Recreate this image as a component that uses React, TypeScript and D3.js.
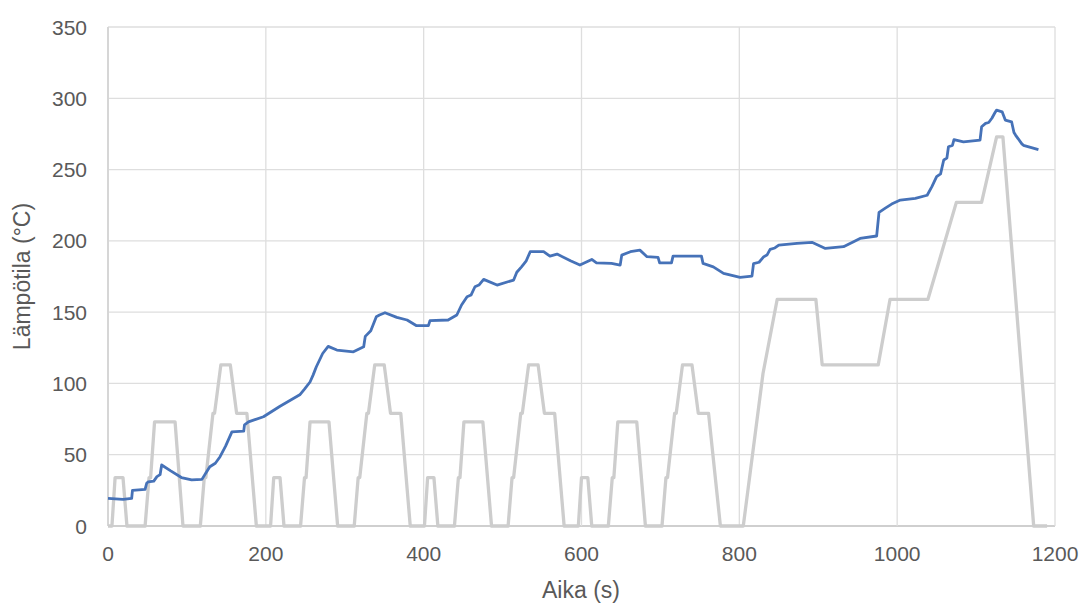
import React from 'react';
import * as d3 from 'd3';

const width = 1082;
const height = 603;
const margin = { left: 108, right: 27, top: 27, bottom: 77 };

const xTicks = [0, 200, 400, 600, 800, 1000, 1200];
const yTicks = [0, 50, 100, 150, 200, 250, 300, 350];

// drive cycle (grey), time in s and scaled speed
const cycleTime = [
  0, 5, 9, 19, 24, 47, 52, 54, 59, 85, 95, 117, 122, 124, 133, 135, 143, 155, 163, 176, 188,
  206, 210, 218, 223, 244, 249, 251, 256, 280, 291, 312, 317, 319, 328, 330, 338, 350, 358, 371, 383,
  401, 405, 413, 418, 439, 444, 446, 451, 475, 486, 507, 512, 514, 523, 525, 533, 545, 553, 566, 578,
  596, 600, 608, 613, 634, 639, 641, 646, 670, 681, 702, 707, 709, 718, 720, 728, 740, 748, 761, 776,
  805, 830, 848, 897, 905, 976, 991, 1039, 1075, 1107, 1126, 1134, 1173, 1190,
];
const cycleSpeed = [
  0, 0, 34, 34, 0, 0, 34, 34, 73, 73, 0, 0, 34, 34, 79, 79, 113, 113, 79, 79, 0,
  0, 34, 34, 0, 0, 34, 34, 73, 73, 0, 0, 34, 34, 79, 79, 113, 113, 79, 79, 0,
  0, 34, 34, 0, 0, 34, 34, 73, 73, 0, 0, 34, 34, 79, 79, 113, 113, 79, 79, 0,
  0, 34, 34, 0, 0, 34, 34, 73, 73, 0, 0, 34, 34, 79, 79, 113, 113, 79, 79, 0,
  0, 107, 159, 159, 113, 113, 159, 159, 227, 227, 273, 273, 0, 0,
];

// measured temperature (blue)
const tempTime = [
  0, 19, 30, 31, 47, 49, 51, 58, 62, 66, 68, 79, 93, 106, 119, 125, 129, 136, 142, 149, 157, 172, 173,
  178, 197, 218, 243, 249, 256, 260, 264, 272, 279, 290, 311, 324, 326, 333, 340, 344, 351, 366, 379,
  391, 406, 408, 431, 442, 448, 455, 460, 465, 470, 476, 493, 514, 518, 524, 530, 535, 552, 560, 569,
  586, 598, 613, 619, 638, 649, 651, 662, 674, 683, 697, 699, 714, 716, 752, 754, 767, 780, 801, 816,
  818, 825, 831, 835, 839, 845, 850, 873, 892, 909, 932, 953, 974, 977, 985, 993, 1004, 1023, 1038,
  1044, 1050, 1055, 1059, 1063, 1065, 1070, 1072, 1084, 1105, 1107, 1112, 1116, 1120, 1124, 1126,
  1133, 1137, 1145, 1148, 1150, 1158, 1160, 1169, 1179,
];
const tempValue = [
  19.4, 18.7, 19.4, 25, 25.7, 30, 31, 31.5, 34.6, 36, 42.8, 38.8, 34, 32.3, 32.7, 38, 41.6, 44, 48.6,
  56, 66, 66.5, 71, 73, 76.6, 84, 92, 96, 101, 106, 111.7, 121, 126, 123.4, 122.2, 125.7, 133, 137,
  146.8, 148, 149.6, 146.3, 144.5, 140.5, 140.5, 144, 144.5, 148, 155, 160.8, 162, 167.8, 169, 173,
  169, 172.5, 178, 181.8, 186, 192.4, 192.4, 189.3, 190.7, 186, 183, 187, 184.6, 184.2, 183, 190,
  192.4, 193.5, 188.9, 188.4, 184.6, 184.6, 189.3, 189.3, 184.2, 181.8, 177.2, 174.4, 175.3, 184,
  185, 188.9, 190, 194, 195, 197, 198.2, 199, 194.7, 195.9, 201.7, 203.4, 220, 223, 225.8, 228.6,
  229.8, 232, 238, 245, 247, 256.7, 258, 266, 267, 271, 269.5, 270.7, 280, 282.4, 283, 286, 290,
  291.7, 290.5, 284.7, 283.5, 276, 274.2, 268, 267, 265.6, 264,
];

const x = d3.scaleLinear().domain([0, 1200]).range([margin.left, width - margin.right]);
const y = d3.scaleLinear().domain([0, 350]).range([height - margin.bottom, margin.top]);

const cyclePath = d3.line<number>()
  .x((d) => x(d))
  .y((d, i) => y(cycleSpeed[i]))(cycleTime);
const tempPath = d3.line<number>()
  .x((d) => x(d))
  .y((d, i) => y(tempValue[i]))(tempTime);

const font = "'Liberation Sans', Arial, sans-serif";
const textColor = '#595959';

export default function App() {
  return (
    <svg width={width} height={height} style={{ position: 'absolute', left: 0, top: 0, background: '#fff' }}>
      {/* grid */}
      {yTicks.map((t) => (
        <line key={'gy' + t} x1={x(0)} x2={x(1200)} y1={y(t)} y2={y(t)}
          stroke={t === 0 ? '#cfcfcf' : '#dedede'} strokeWidth={t === 0 ? 2 : 1.3} />
      ))}
      {xTicks.map((t) => (
        <line key={'gx' + t} x1={x(t)} x2={x(t)} y1={y(0)} y2={y(350)}
          stroke={t === 0 ? '#d6d6d6' : '#dedede'} strokeWidth={t === 0 ? 2 : 1.3} />
      ))}

      <path d={cyclePath || ''} fill="none" stroke="#cdcdcd" strokeWidth={3.3} strokeLinejoin="round" />
      <path d={tempPath || ''} fill="none" stroke="#4672b8" strokeWidth={2.8} strokeLinejoin="round" />

      {yTicks.map((t) => (
        <text key={'ly' + t} x={87} y={y(t)} dy="0.36em" textAnchor="end"
          fontFamily={font} fontSize={21} fill={textColor}>{t}</text>
      ))}
      {xTicks.map((t) => (
        <text key={'lx' + t} x={x(t)} y={561} textAnchor="middle"
          fontFamily={font} fontSize={21} fill={textColor}>{t}</text>
      ))}

      <text x={581} y={598} textAnchor="middle" fontFamily={font} fontSize={23} fill={textColor}>Aika (s)</text>
      <text transform={`translate(30, ${(y(0) + y(350)) / 2}) rotate(-90)`} textAnchor="middle"
        fontFamily={font} fontSize={23} fill={textColor}>Lämpötila (°C)</text>
    </svg>
  );
}
